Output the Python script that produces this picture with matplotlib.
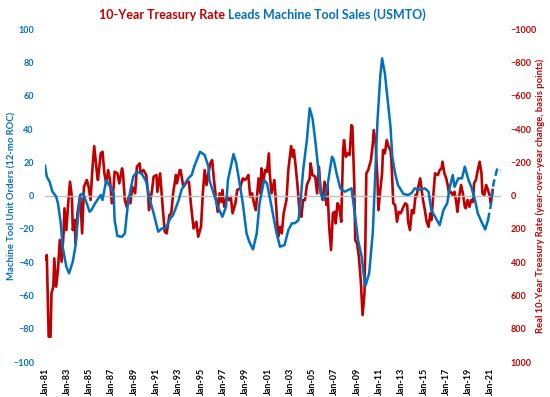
import matplotlib
matplotlib.use("Agg")
import matplotlib.pyplot as plt
import pandas as pd

# machine tool unit orders, 12-mo rate of change (left axis)
blue_month = [0, 2, 5, 8, 12, 14, 17, 19, 23, 26, 30, 33, 36, 38, 41, 45, 48, 50, 54,
              60, 62, 66, 70, 74, 75, 78, 83, 86, 89, 92, 95, 99, 104, 109, 113, 117,
              122, 126, 130, 135, 138, 144, 147, 153, 156, 158, 161, 167, 172, 176, 177,
              181, 186, 191, 195, 197, 200, 203, 206, 209, 213, 217, 220, 224, 228, 231,
              236, 239, 244, 249, 253, 258, 262, 266, 269, 273, 275, 278, 282, 285, 288,
              291, 294, 297, 300, 304, 309, 311, 314, 318, 323, 330, 334, 337, 341, 343,
              345, 349, 353, 355, 358, 361, 363, 366, 369, 372, 374, 377, 380, 386, 391,
              395, 398, 404, 409, 413, 416, 422, 425, 429, 433, 436, 439, 441, 445, 449,
              452, 456, 459, 463, 466, 470, 474, 477, 480, 483, 487, 491]
blue_vals = [18, 11.4, 8.4, 2.4, -0.6, -4.6, -16.5, -30.7, -42.7, -46.7, -39.7, -29.7,
             -10.6, 0.4, 1.4, -4.6, -9.7, -8.7, -4.6, 0.4, -2.6, 9.4, 5.3, 1.4, -14.7,
             -24.3, -24.7, -22.7, -6.6, 3.4, 11.4, 14.4, 13.4, 8.4, -2.6, -10.6, -21.7,
             -19.7, -19.7, -13.6, -11.7, -2.6, 3.4, 9.4, 11.4, 12.4, 18, 26.4, 24.4, 17.4,
             9.4, 2.4, -6.6, -12.7, -6.6, 9.4, 17.4, 25, 19.4, 9.4, -4.6, -22.7, -27.7,
             -32.3, -22.7, -4.6, 9.4, 7.4, -6.6, -21.7, -30.7, -29.7, -20.7, -16.6, -16.6,
             -14.7, -4.6, 15.4, 33.4, 52.5, 46.5, 33.4, 17.4, 1.4, -2.6, 5.3, 23.4, 21.4,
             13.4, 4.4, 2.4, 4.4, -12.7, -26.7, -36.7, -46.7, -54.3, -46.7, -22, 5, 45,
             72, 82.5, 73.5, 57.5, 41.4, 23.4, 13.4, 6.4, 1, 0.4, 1.7, 4.4, 3.4, 4.4,
             2.4, -8.7, -14.7, -17.7, -8.7, -4.6, 5.3, 12.4, 5.3, 10.4, 10.4, 17.4, 9.4,
             5.3, -2.6, -10.6, -15.7, -20.3, -14.7, -5.6, 7.4, 16.4, 15.4]
blue_forecast_from = 477

# real 10-year treasury rate, y/y change in bp (right axis, inverted)
red_month = [0, 2, 4, 6, 7, 9, 10, 12, 14, 16, 18, 20, 21, 23, 25, 27, 29, 30, 32, 33,
             35, 38, 40, 42, 45, 47, 49, 51, 53, 56, 57, 60, 62, 64, 66, 68, 70, 72, 74,
             75, 78, 80, 83, 84, 86, 88, 90, 92, 94, 97, 99, 102, 103, 106, 109, 111, 112,
             115, 117, 120, 121, 124, 127, 129, 131, 134, 136, 138, 141, 142, 145, 146,
             149, 153, 155, 157, 160, 163, 165, 168, 170, 172, 174, 176, 178, 180, 182,
             184, 186, 188, 190, 191, 193, 196, 198, 200, 202, 205, 207, 210, 213, 215,
             217, 219, 221, 223, 225, 227, 230, 232, 233, 235, 237, 239, 241, 242, 244,
             247, 249, 251, 253, 255, 257, 260, 262, 265, 267, 268, 270, 272, 274, 276,
             278, 280, 282, 285, 286, 288, 291, 293, 295, 297, 299, 301, 303, 304, 306,
             308, 310, 312, 313, 315, 317, 319, 321, 322, 324, 326, 328, 330, 331, 333,
             334, 336, 338, 340, 342, 344, 345, 346, 348, 349, 351, 353, 354, 356, 358,
             359, 361, 363, 364, 366, 368, 370, 372, 373, 375, 377, 379, 381, 383, 386,
             388, 390, 391, 393, 395, 397, 399, 400, 402, 404, 406, 407, 409, 411, 413,
             415, 416, 418, 420, 423, 425, 427, 428, 430, 432, 434, 435, 437, 439, 441,
             443, 444, 446, 448, 450, 452, 453, 455, 457, 459, 461, 462, 464, 466, 468,
             470, 471, 473, 475, 477, 479, 480, 482]
red_vals = [383, 357, 848, 848, 587, 547, 377, 547, 447, 267, 397, 227, 76, 207, 46, -84,
            7, 207, 147, 287, 106, -4, 227, -53, -94, -53, 26, -154, -298, -134, -94,
            -254, -264, -134, -74, -154, -94, 46, -53, -144, -134, -74, -164, -134, 26, 67,
            7, 46, -53, -14, -174, -194, -134, -154, -124, -14, 87, -23, -114, -124, -23,
            -134, 87, 217, 227, 117, 106, -14, -124, -74, -154, -154, -53, -84, -84, 46,
            197, 157, 247, 187, -14, -154, -64, -134, -194, -214, -94, 7, 97, -14, 37,
            -34, 67, 7, 26, 7, 106, 46, -34, -44, -104, -94, -104, -124, 7, -14, 46, 87,
            -104, -14, -164, -74, -154, -144, -254, -134, -14, -94, 67, 247, 187, 227,
            106, 26, -154, -298, -234, -274, -174, -53, 87, 127, 26, 26, -64, -104, -194,
            -124, -114, -14, -174, -14, 26, -84, 56, -64, 187, 327, 106, 97, 167, 46, 67,
            157, -274, -334, -234, -254, -244, -424, -414, -74, 267, 287, 367, 507, 718,
            587, 267, -134, -154, -174, -214, -314, -394, -314, -94, 87, -34, -134, -274,
            -254, -334, -294, -274, -214, 46, 56, 157, 97, 106, 67, 46, 56, 157, 207, 87,
            106, -4, 7, -53, -104, -14, 26, 87, 157, 187, 106, 147, 7, -134, -124, -154,
            -164, -204, -134, -104, -53, -14, -23, -4, -23, 46, 97, 7, -64, -14, 67, 76,
            26, 67, 26, 37, -74, -94, -154, -204, -134, -14, -4, -64, -34, 7, 46, -34]

tick_months = list(range(0, 481, 24))

BLUE = '#0070C0'
RED = '#C00000'
FONT = 'Lato'

months = pd.date_range('1981-01-01', periods=500, freq='MS')
blue_dates = months[blue_month]
red_dates = months[red_month]
cut = blue_month.index(blue_forecast_from)

fig = plt.figure(figsize=(5.5, 3.97), dpi=100)
ax = fig.add_axes([45 / 550, 35 / 397, 456 / 550, 332.7 / 397])
ax2 = ax.twinx()

ax.axhline(0, color='#BFBFBF', lw=1, zorder=1)
ax.plot(blue_dates[:cut + 1], blue_vals[:cut + 1], color=BLUE, lw=1.8, zorder=3)
ax.plot(blue_dates[cut:], blue_vals[cut:], color=BLUE, lw=1.8, ls=(0, (3, 1.5)), zorder=3)
ax2.plot(red_dates, red_vals, color=RED, lw=1.9, zorder=2)
# keep blue on top of red
ax.set_zorder(ax2.get_zorder() + 1)
ax.patch.set_visible(False)

ax.set_xlim(months[0], months[491])
ax.set_ylim(-100, 100)
ax2.set_ylim(1000, -1000)

ax.set_yticks(range(-100, 101, 20))
ax2.set_yticks(range(-1000, 1001, 200))
ax.set_xticks(months[tick_months])
ax.set_xticklabels([d.strftime('%b-%y') for d in months[tick_months]],
                   rotation=90, fontsize=6.5, fontweight='bold', family=FONT)
for lbl in ax.get_yticklabels():
    lbl.set(color=BLUE, fontsize=6.5, fontweight='bold', family=FONT)
for lbl in ax2.get_yticklabels():
    lbl.set(color=RED, fontsize=6.5, fontweight='bold', family=FONT)

ax.tick_params(axis='x', length=0, pad=4)
ax.tick_params(axis='y', length=0, pad=8)
ax2.tick_params(axis='y', length=0, pad=7)
for a in (ax, ax2):
    for s in a.spines.values():
        s.set_visible(False)

ax.set_ylabel('Machine Tool Unit Orders (12-mo ROC)', color=BLUE, fontsize=6.8,
              fontweight='bold', family=FONT, va='center')
ax.yaxis.set_label_coords((12 - 45) / 456, 0.5)
ax2.set_ylabel('Real 10-Year Treasury Rate (year-over-year change, basis points)',
               color=RED, fontsize=6.8, fontweight='bold', family=FONT,
               rotation=90, va='center')
ax2.yaxis.set_label_coords((540 - 45) / 456, 0.5)

t1 = fig.text(0.5, 0.962, '10-Year Treasury Rate ', color=RED, fontsize=9,
              fontweight='bold', family=FONT, ha='right', va='center')
t2 = fig.text(0.5, 0.962, 'Leads Machine Tool Sales (USMTO)', color=BLUE, fontsize=9,
              fontweight='bold', family=FONT, ha='left', va='center')
fig.canvas.draw()
w = t1.get_window_extent().width
w2 = t2.get_window_extent().width
t1.set_x((262 + (w - w2) / 2) / 550)
t2.set_x((262 + (w - w2) / 2) / 550)

fig.savefig('out.png', dpi=100)
